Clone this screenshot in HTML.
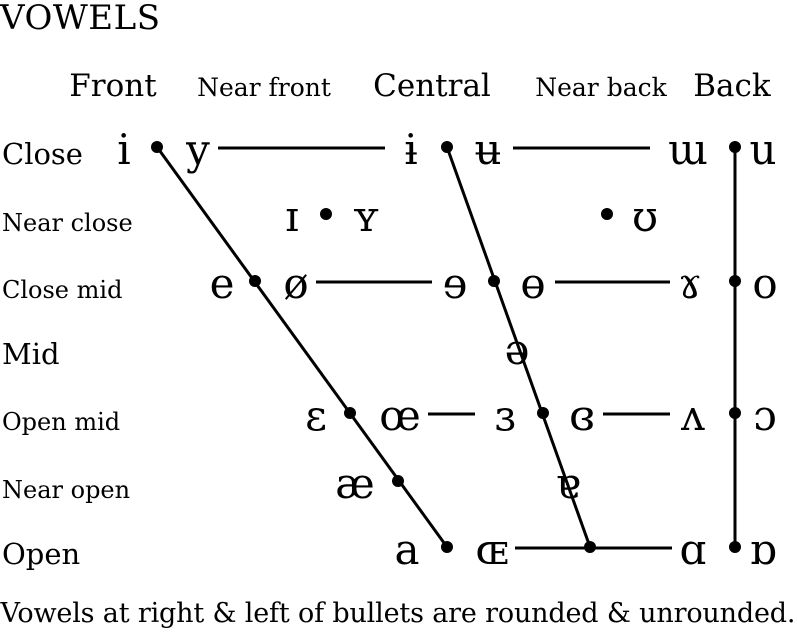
<!DOCTYPE html>
<html><head><meta charset="utf-8"><style>
html,body{margin:0;padding:0;background:#fff}
svg{display:block}
text{font-family:"DejaVu Serif","Liberation Serif",serif;fill:#000}
</style></head><body>
<svg width="797" height="641" viewBox="0 0 797 641">
<text x="0" y="29" font-size="34" font-family="Liberation Serif" textLength="160">VOWELS</text>
<g id="headers"></g>
<g id="rows"></g>
<g id="lines" stroke="#000" stroke-width="3" fill="none"></g>
<g id="dots"></g>
<g id="glyphs"></g>
<text x="398" y="622" font-size="27" text-anchor="middle" textLength="795" font-family="Liberation Serif">Vowels at right &amp; left of bullets are rounded &amp; unrounded.</text>
</svg>
<script>
const rowNames=["Close","Near close","Close mid","Mid","Open mid","Near open","Open"];
const rowY=[147,214,281,347,413,481,547];
const colNames=["Front","Near front","Central","Near back","Back"];
const colX=[113,264,432,601,732];
const colSize=[31,25,31,25,31];
// dots: [row, x]
const dots=[[0,157],[0,447],[0,735],[1,326],[1,607],[2,255],[2,494],[2,735],[4,350],[4,543],[4,735],[5,398],[6,447],[6,590],[6,735]];
// glyphs: [char,row,x]
const glyphs=[["i",0,124],["y",0,198],["ɨ",0,411],["ʉ",0,488],["ɯ",0,688],["u",0,763],
["ɪ",1,292],["ʏ",1,366],["ʊ",1,645],
["e",2,222],["ø",2,296],["ɘ",2,455],["ɵ",2,533],["ɤ",2,690],["o",2,765],
["ə",3,517],
["ɛ",4,316],["œ",4,400],["ɜ",4,505],["ɞ",4,582],["ʌ",4,693],["ɔ",4,765],
["æ",5,355],["ɐ",5,568],
["a",6,407],["ɶ",6,492],["ɑ",6,693],["ɒ",6,763]];
// connecting lines: [row1,x1,row2,x2]
const segs=[[0,157,6,447],[0,447,6,590],[0,735,6,735],
[0,218,0,385],[0,513,0,650],[2,316,2,432],[2,555,2,670],[4,428,4,475],[4,603,4,670],[6,515,6,672]];
const NS="http://www.w3.org/2000/svg";
function mk(t,a,p){const e=document.createElementNS(NS,t);for(const k in a)e.setAttribute(k,a[k]);document.getElementById(p).appendChild(e);return e;}
colNames.forEach((n,i)=>{const e=mk("text",{x:colX[i],y:96,"font-size":colSize[i],"text-anchor":"middle"},"headers");e.textContent=n;

});
rowNames.forEach((n,i)=>{const fs=(n==="Close"||n==="Mid"||n==="Open")?29:24;const e=mk("text",{x:2,y:rowY[i]+17,"font-size":fs},"rows");e.textContent=n;

});
segs.forEach(s=>{const e=mk("line",{x1:s[1],y1:rowY[s[0]]+(s[0]===s[2]?1:0),x2:s[3],y2:rowY[s[2]]+(s[0]===s[2]?1:0)},"lines");

});
dots.forEach(d=>{const e=mk("circle",{cx:d[1],cy:rowY[d[0]],r:6,fill:"#000"},"dots");

});
glyphs.forEach(g=>{const e=mk("text",{x:g[2],y:rowY[g[1]]+17,"font-size":42,"text-anchor":"middle"},"glyphs");e.textContent=g[0];

});
</script>
</body></html>
